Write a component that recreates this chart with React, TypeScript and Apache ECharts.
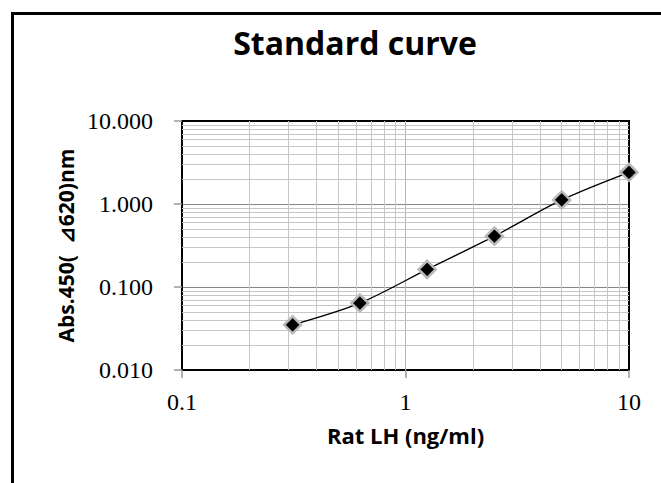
import React, { useEffect, useRef } from "react";
import * as echarts from "echarts";

const concentrations = [0.3125, 0.625, 1.25, 2.5, 5, 10];
const absorbance = [0.035, 0.064, 0.163, 0.41, 1.12, 2.41];
const xTickLabels = ["0.1", "1", "10"];
const yTickLabels = ["0.010", "0.100", "1.000", "10.000"];
const xMinorGrid = [0.2, 0.3, 0.4, 0.5, 0.6, 0.7, 0.8, 0.9, 2, 3, 4, 5, 6, 7, 8, 9];
const yMinorGrid = [
  0.02, 0.03, 0.04, 0.05, 0.06, 0.07, 0.08, 0.09,
  0.2, 0.3, 0.4, 0.5, 0.6, 0.7, 0.8, 0.9,
  2, 3, 4, 5, 6, 7, 8, 9,
];
const xMajorGrid = [1];

const titleText = "Standard curve";
const xTitle = "Rat LH (ng/ml)";
const yTitle = "Abs.450(  \u22bf620)nm";

export default function App() {
  const ref = useRef<HTMLDivElement>(null);
  useEffect(() => {
    if (!ref.current) return;
    const chart = echarts.init(ref.current, null, { renderer: "svg" });
    const serif = "'Liberation Serif', 'Times New Roman', serif";
    const sans = "'Open Sans', sans-serif";
    const gridLine = "#c6c6c6";
    chart.setOption({
      animation: false,
      backgroundColor: "#ffffff",
      title: {
        text: titleText,
        left: 350,
        top: 21,
        textAlign: "center",
        textStyle: { fontFamily: sans, fontWeight: "bold", fontSize: 32, color: "#000" },
      },
      graphic: [
        {
          type: "rect",
          left: 10,
          top: 11,
          shape: { width: 700, height: 520 },
          style: { fill: "none", stroke: "#000", lineWidth: 3 },
          silent: true,
          z: 100,
        },
      ],
      grid: { left: 182, top: 121, right: 32, bottom: 113, containLabel: false },
      xAxis: [
        {
          type: "log",
          logBase: 10,
          min: 0.1,
          max: 10,
          name: xTitle,
          nameLocation: "middle",
          nameGap: 54,
          nameTextStyle: { fontFamily: sans, fontWeight: "bold", fontSize: 22, color: "#000" },
          axisLine: { show: true, lineStyle: { color: "#000", width: 2 } },
          axisTick: { show: true, inside: false, length: 8, lineStyle: { color: "#999", width: 1.5 } },
          axisLabel: {
            margin: 20,
            fontFamily: serif,
            fontSize: 24,
            color: "#000",
            formatter: (_v: number, i: number) => xTickLabels[i] ?? "",
          },
          splitLine: { show: true, lineStyle: { color: gridLine, width: 1 } },
        },
        {
          type: "log",
          logBase: 10,
          min: 0.1,
          max: 10,
          position: "top",
          axisLine: { show: true, lineStyle: { color: "#000", width: 2 } },
          axisTick: { show: false },
          axisLabel: { show: false },
          splitLine: { show: false },
        },
      ],
      yAxis: [
        {
          type: "log",
          logBase: 10,
          min: 0.01,
          max: 10,
          name: yTitle,
          nameLocation: "middle",
          nameGap: 92,
          nameRotate: 90,
          nameTextStyle: { fontFamily: sans, fontWeight: "bold", fontSize: 21, color: "#000" },
          axisLine: { show: true, lineStyle: { color: "#000", width: 2 } },
          axisTick: { show: true, inside: false, length: 8, lineStyle: { color: "#999", width: 1.5 } },
          axisLabel: {
            margin: 29,
            fontFamily: serif,
            fontSize: 24,
            color: "#000",
            formatter: (_v: number, i: number) => yTickLabels[i] ?? "",
          },
          splitLine: { show: true, lineStyle: { color: "#858585", width: 1 } },
        },
        {
          type: "log",
          logBase: 10,
          min: 0.01,
          max: 10,
          position: "right",
          axisLine: { show: true, lineStyle: { color: "#000", width: 2 } },
          axisTick: { show: false },
          axisLabel: { show: false },
          splitLine: { show: false },
        },
      ],
      series: [
        {
          type: "line",
          name: "grid",
          data: [],
          silent: true,
          z: 1,
          markLine: {
            silent: true,
            symbol: ["none", "none"],
            label: { show: false },
            animation: false,
            data: [
              ...xMinorGrid.map((v) => ({ xAxis: v, lineStyle: { color: gridLine, width: 1, type: "solid" } })),
              ...xMajorGrid.map((v) => ({ xAxis: v, lineStyle: { color: "#b5b5b5", width: 1, type: "solid" } })),
              ...yMinorGrid.map((v) => ({ yAxis: v, lineStyle: { color: gridLine, width: 1, type: "solid" } })),
            ],
          },
        },
        {
          type: "line",
          name: "Standard",
          data: concentrations.map((c, i) => [c, absorbance[i]]),
          smooth: 0.3,
          z: 5,
          symbol: "diamond",
          symbolSize: 17,
          lineStyle: { color: "#000", width: 1.3 },
          itemStyle: { color: "#000", borderColor: "#b8b8b8", borderWidth: 2.5 },
        },
      ],
    });
    return () => chart.dispose();
  }, []);
  return (
    <div
      ref={ref}
      style={{ position: "fixed", left: 0, top: 0, width: 661, height: 483, background: "#fff" }}
    />
  );
}
